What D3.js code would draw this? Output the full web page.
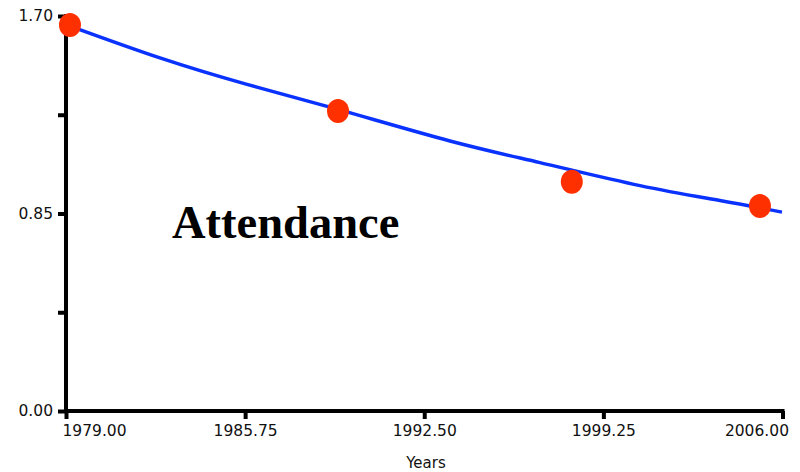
<!DOCTYPE html>
<html>
<head>
<meta charset="utf-8">
<script src="https://cdn.jsdelivr.net/npm/d3@7"></script>
<style>
  html, body { margin: 0; padding: 0; background: #fff; }
  svg { display: block; }
</style>
</head>
<body>
<svg id="chart" width="800" height="472"></svg>
<script>
// Observed data points (year, attendance)
const pointYears = [1979.15, 1989.25, 1998.06, 2005.15];
const pointValues = [1.661, 1.291, 0.987, 0.882];

// Fitted trend line
const lineYears = [1979.15, 1982.54, 1985.82, 1989.25, 1993.47, 1996.86, 2000.63, 2003.64, 2005.98];
const lineValues = [1.657, 1.52, 1.406, 1.298, 1.162, 1.069, 0.970, 0.906, 0.856];

// Axis ticks
const xTicks = [1979, 1985.75, 1992.5, 1999.25, 2006];
const yTicks = [0, 0.425, 0.85, 1.275, 1.7];
const yLabelled = [0, 0.85, 1.7];

const title = "Attendance";
const xTitle = "Years";

const svg = d3.select("#chart");
const x = d3.scaleLinear().domain([1979, 2006]).range([66, 782.5]);
const y = d3.scaleLinear().domain([0, 1.7]).range([411, 16]);

const fmt = d3.format(".2f");
const fontFam = "'DejaVu Sans', Verdana, sans-serif";

// Y axis
const yAxis = d3.axisLeft(y)
  .tickValues(yTicks)
  .tickSize(8)
  .tickSizeOuter(0)
  .tickPadding(5)
  .tickFormat(d => yLabelled.some(v => Math.abs(v - d) < 1e-9) ? fmt(d) : "");
const gy = svg.append("g").attr("transform", `translate(${x(1979)},0)`).call(yAxis);

// X axis
const xAxis = d3.axisBottom(x)
  .tickValues(xTicks)
  .tickSize(8)
  .tickSizeOuter(0)
  .tickPadding(6)
  .tickFormat(fmt);
const gx = svg.append("g").attr("transform", `translate(0,${y(0)})`).call(xAxis);

[gx, gy].forEach(g => {
  g.select(".domain").attr("stroke", "#000").attr("stroke-width", 4);
  g.selectAll(".tick line").attr("stroke", "#000").attr("stroke-width", 4);
  g.selectAll(".tick text")
    .attr("fill", "#111")
    .style("font-family", fontFam)
    .style("font-size", "15.5px");
});
// edge labels kept inside the plot width
const xt = gx.selectAll(".tick text");
const nX = xTicks.length;
xt.each(function(d, i) {
  if (i === 0) d3.select(this).attr("text-anchor", "start").attr("x", -4);
  if (i === nX - 1) d3.select(this).attr("text-anchor", "end").attr("x", 6);
});

gy.select(".domain").attr("d", `M0,${y(1.7) - 2}V${y(0) + 2}`);
gx.select(".domain").attr("d", `M${x(1979) - 2},0H${x(2006) + 2}`);

// Trend line
const lineData = lineYears.map((d, i) => [d, lineValues[i]]);
svg.append("path")
  .datum(lineData)
  .attr("fill", "none")
  .attr("stroke", "#0a32ff")
  .attr("stroke-width", 3.5)
  .attr("d", d3.line().x(d => x(d[0])).y(d => y(d[1])).curve(d3.curveNatural));

// Points
svg.append("g").selectAll("ellipse")
  .data(pointYears.map((d, i) => [d, pointValues[i]]))
  .join("ellipse")
  .attr("cx", d => x(d[0]))
  .attr("cy", d => y(d[1]))
  .attr("rx", 11)
  .attr("ry", 12)
  .attr("fill", "#ff3000");

// Title inside plot
svg.append("text")
  .attr("x", 172)
  .attr("y", 238)
  .style("font-family", "'Liberation Serif', 'Times New Roman', serif")
  .style("font-weight", "bold")
  .style("font-size", "46.5px")
  .attr("fill", "#000")
  .text(title);

// X axis title
svg.append("text")
  .attr("x", 426)
  .attr("y", 468)
  .attr("text-anchor", "middle")
  .style("font-family", fontFam)
  .style("font-size", "15px")
  .attr("fill", "#111")
  .text(xTitle);
</script>
</body>
</html>
